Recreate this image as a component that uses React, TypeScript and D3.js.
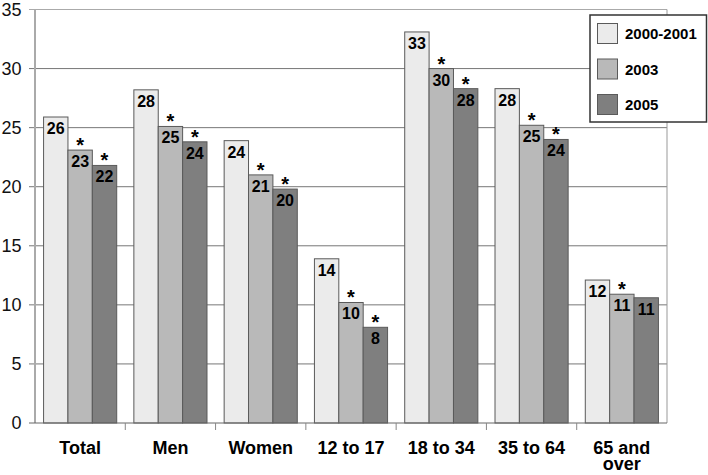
import React, { useEffect, useRef } from "react";
import { select, scaleBand, scaleLinear, range } from "d3";

const categories = ["Total", "Men", "Women", "12 to 17", "18 to 34", "35 to 64", "65 and over"];
const categoryLines = [["Total"], ["Men"], ["Women"], ["12 to 17"], ["18 to 34"], ["35 to 64"], ["65 and", "over"]];
const seriesNames = ["2000-2001", "2003", "2005"];
const values2000 = [25.9, 28.2, 23.9, 13.9, 33.1, 28.3, 12.1];
const values2003 = [23.1, 25.1, 21.0, 10.2, 30.0, 25.2, 10.9];
const values2005 = [21.8, 23.8, 19.8, 8.1, 28.3, 24.0, 10.6];
// asterisk = significant change vs 2000-2001
const star2000 = [false, false, false, false, false, false, false];
const star2003 = [true, true, true, true, true, true, true];
const star2005 = [true, true, true, true, true, true, false];
const yTicks = [0, 5, 10, 15, 20, 25, 30, 35];

const colors = ["#ebebeb", "#b9b9b9", "#7f7f7f"];
const FONT = "'Liberation Sans', Arial, Helvetica, sans-serif";

function App() {
  const svgRef = useRef(null);

  useEffect(() => {
    const W = 708, H = 475;
    const M = { left: 35, right: 667, top: 9.5, bottom: 423 };
    const svg = select(svgRef.current).attr("width", W).attr("height", H);
    svg.selectAll("*").remove();

    const allValues = [values2000, values2003, values2005];
    const allStars = [star2000, star2003, star2005];

    const y = scaleLinear().domain([0, 35]).range([M.bottom, M.top]);
    const xCat = scaleBand().domain(categories).range([M.left, M.right]);
    const x0 = scaleBand().domain(categories).range([M.left, M.right]).paddingInner(0.19).paddingOuter(0.095);
    const x1 = scaleBand().domain(seriesNames).range([0, x0.bandwidth()]);

    const g = svg.append("g").style("font-family", FONT);

    // gridlines + left ticks
    g.selectAll(".grid")
      .data(yTicks.filter((t) => t > 0 && t < 35))
      .join("line")
      .attr("x1", M.left - 6)
      .attr("x2", M.right)
      .attr("y1", (d) => y(d))
      .attr("y2", (d) => y(d))
      .attr("stroke", "#777")
      .attr("stroke-width", 1);

    // frame
    g.append("line").attr("x1", M.left - 6).attr("x2", M.right).attr("y1", y(35)).attr("y2", y(35)).attr("stroke", "#aaa");
    g.append("line").attr("x1", M.right).attr("x2", M.right).attr("y1", y(35)).attr("y2", y(0)).attr("stroke", "#999");
    g.append("line").attr("x1", M.left).attr("x2", M.left).attr("y1", y(35)).attr("y2", y(0)).attr("stroke", "#aaa").attr("stroke-width", 2);

    // y tick labels
    g.selectAll(".ylab")
      .data(yTicks)
      .join("text")
      .attr("x", 21.5)
      .attr("y", (d) => y(d))
      .attr("dy", "0.36em")
      .attr("text-anchor", "end")
      .attr("font-size", 18)
      .attr("fill", "#111")
      .text((d) => d);

    // bars
    seriesNames.forEach((s, si) => {
      const vals = allValues[si];
      const stars = allStars[si];
      const grp = g.append("g");
      grp.selectAll("rect")
        .data(categories)
        .join("rect")
        .attr("x", (c) => x0(c) + x1(s))
        .attr("y", (c, i) => y(vals[i]))
        .attr("width", x1.bandwidth())
        .attr("height", (c, i) => y(0) - y(vals[i]))
        .attr("fill", colors[si])
        .attr("stroke", "#5a5a5a")
        .attr("stroke-width", 1);
      grp.selectAll(".val")
        .data(categories)
        .join("text")
        .attr("x", (c) => x0(c) + x1(s) + x1.bandwidth() / 2)
        .attr("y", (c, i) => y(vals[i]) + 17)
        .attr("text-anchor", "middle")
        .attr("font-size", 16)
        .attr("font-weight", "bold")
        .attr("fill", "#000")
        .text((c, i) => Math.round(vals[i]));
      grp.selectAll(".star")
        .data(categories.filter((c, i) => stars[i]))
        .join("text")
        .attr("x", (c) => x0(c) + x1(s) + x1.bandwidth() / 2)
        .attr("y", (c) => y(vals[categories.indexOf(c)]) + 2)
        .attr("text-anchor", "middle")
        .attr("font-size", 20)
        .attr("font-weight", "bold")
        .attr("fill", "#000")
        .text("*");
    });

    // bottom axis
    g.append("line").attr("x1", M.left - 6).attr("x2", M.right).attr("y1", y(0)).attr("y2", y(0)).attr("stroke", "#666");
    g.selectAll(".xtick")
      .data(categories.slice(1))
      .join("line")
      .attr("x1", (c) => xCat(c))
      .attr("x2", (c) => xCat(c))
      .attr("y1", y(0))
      .attr("y2", y(0) + 7)
      .attr("stroke", "#888");

    const xl = g.selectAll(".xlab")
      .data(categories)
      .join("text")
      .attr("text-anchor", "middle")
      .attr("font-size", 18)
      .attr("font-weight", "bold")
      .attr("fill", "#000");
    xl.selectAll("tspan")
      .data((c, i) => categoryLines[i].map((t) => ({ t, c })))
      .join("tspan")
      .attr("x", (d) => xCat(d.c) + xCat.bandwidth() / 2)
      .attr("y", (d, j) => 454 + j * 16)
      .text((d) => d.t);

    // legend
    const lg = g.append("g");
    lg.append("rect").attr("x", 590).attr("y", 15).attr("width", 116.5).attr("height", 107)
      .attr("fill", "#fff").attr("stroke", "#333").attr("stroke-width", 1.5);
    const rows = range(seriesNames.length);
    lg.selectAll(".sw")
      .data(rows)
      .join("rect")
      .attr("x", 597.5)
      .attr("y", (i) => 23.5 + i * 35.5)
      .attr("width", 20)
      .attr("height", 20)
      .attr("fill", (i) => colors[i])
      .attr("stroke", "#5a5a5a");
    lg.selectAll(".lt")
      .data(rows)
      .join("text")
      .attr("x", 625)
      .attr("y", (i) => 23.5 + i * 35.5 + 15.5)
      .attr("font-size", 15)
      .attr("font-weight", "bold")
      .attr("fill", "#000")
      .text((i) => seriesNames[i]);
  }, []);

  return (
    <svg ref={svgRef} style={{ position: "absolute", left: 0, top: 0, background: "#fff" }}></svg>
  );
}

export default App;
